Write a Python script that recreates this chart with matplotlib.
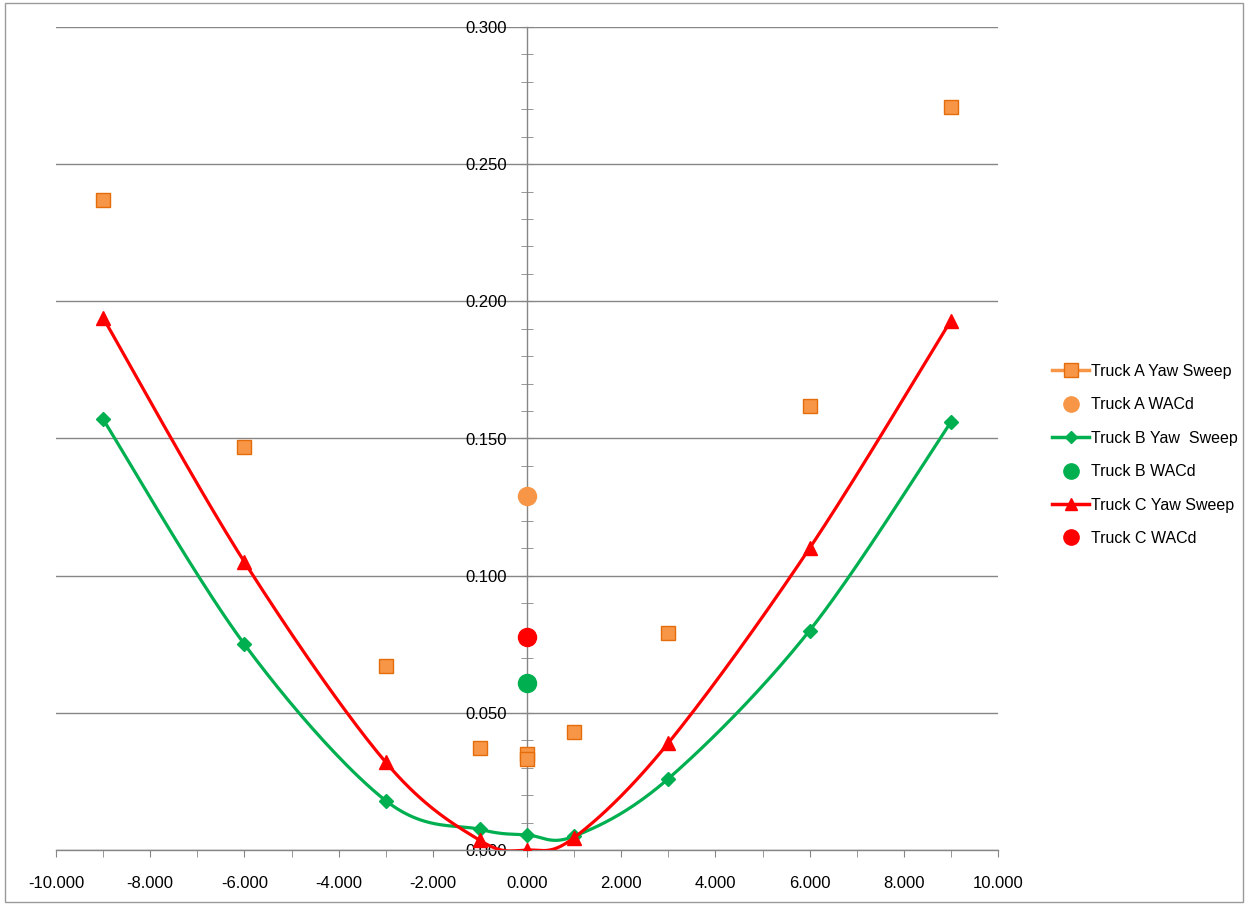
import matplotlib.pyplot as plt
import numpy as np
from matplotlib.patches import Rectangle
from matplotlib.ticker import MultipleLocator, FormatStrFormatter

# yaw angle (deg)
yaw = [-9, -6, -3, -1, 0, 0, 1, 3, 6, 9]
truck_a = [0.237, 0.147, 0.067, 0.037, 0.035, 0.033, 0.043, 0.079, 0.162, 0.271]

yaw_bc = [-9, -6, -3, -1, 0, 1, 3, 6, 9]
truck_b = [0.157, 0.075, 0.018, 0.0075, 0.0055, 0.005, 0.026, 0.080, 0.156]
truck_c = [0.194, 0.105, 0.032, 0.0035, 0.0, 0.0045, 0.039, 0.110, 0.193]

wacd_x = [0.0, 0.0, 0.0]
wacd_a = [0.129]
wacd_b = [0.061]
wacd_c = [0.0775]

labels = ["Truck A Yaw Sweep", "Truck A WACd", "Truck B Yaw  Sweep",
          "Truck B WACd", "Truck C Yaw Sweep", "Truck C WACd"]

ORANGE = "#F79646"
ORANGE_EDGE = "#E46C0A"
GREEN = "#00B050"
RED = "#FF0000"
GRID = "#868686"


def smooth(x, y, n=40):
    # excel-like smoothed line: catmull-rom through the points as bezier segments
    p = np.column_stack([x, y]).astype(float)
    p = np.vstack([p[0], p, p[-1]])
    out = []
    for i in range(1, len(p) - 2):
        p0, p1, p2, p3 = p[i - 1], p[i], p[i + 1], p[i + 2]
        c1 = p1 + (p2 - p0) / 6.0
        c2 = p2 - (p3 - p1) / 6.0
        t = np.linspace(0, 1, n)[:, None]
        seg = ((1 - t) ** 3) * p1 + 3 * ((1 - t) ** 2) * t * c1 + 3 * (1 - t) * t ** 2 * c2 + t ** 3 * p2
        out.append(seg)
    out = np.vstack(out)
    return out[:, 0], out[:, 1]


plt.rcParams['font.family'] = ['Liberation Sans', 'DejaVu Sans']

fig = plt.figure(figsize=(12.47, 9.05), dpi=100)
ax = fig.add_axes([56 / 1247, 55 / 905, 942 / 1247, 823 / 905])

ax.set_xlim(-10, 10)
ax.set_ylim(0, 0.3)

ax.grid(axis='y', color=GRID, linewidth=1.0)
ax.set_axisbelow(True)

for s in ['top', 'right']:
    ax.spines[s].set_visible(False)
ax.spines['left'].set_position(('data', 0))
ax.spines['bottom'].set_position(('data', 0))
for s in ['left', 'bottom']:
    ax.spines[s].set_color(GRID)
    ax.spines[s].set_linewidth(1.0)

ax.xaxis.set_major_locator(MultipleLocator(2))
ax.xaxis.set_minor_locator(MultipleLocator(1))
ax.yaxis.set_major_locator(MultipleLocator(0.05))
ax.yaxis.set_minor_locator(MultipleLocator(0.01))
ax.xaxis.set_major_formatter(FormatStrFormatter('%.3f'))
ax.yaxis.set_major_formatter(FormatStrFormatter('%.3f'))
ax.tick_params(axis='x', which='both', direction='out', length=5, color=GRID, labelsize=12, pad=14)
ax.tick_params(axis='y', which='major', direction='inout', length=9, color=GRID, labelsize=12, pad=10)
ax.tick_params(axis='y', which='minor', direction='inout', length=9, color=GRID)

# truck A: markers only
ax.plot(yaw, truck_a, linestyle='none', marker='s', markersize=10.5,
        markerfacecolor=ORANGE, markeredgecolor=ORANGE_EDGE, markeredgewidth=1.0, zorder=4)

bx, by = smooth(yaw_bc, truck_b)
ax.plot(bx, by, color=GREEN, linewidth=2.3, zorder=3)
ax.plot(yaw_bc, truck_b, linestyle='none', marker='D', markersize=7.5, color=GREEN, zorder=3)

cx, cy = smooth(yaw_bc, truck_c)
ax.plot(cx, cy, color=RED, linewidth=2.3, zorder=3)
ax.plot(yaw_bc, truck_c, linestyle='none', marker='^', markersize=10, color=RED, zorder=3)

ax.plot(wacd_x[:1], wacd_a, linestyle='none', marker='o', markersize=13, color=ORANGE, zorder=5)
ax.plot(wacd_x[1:2], wacd_b, linestyle='none', marker='o', markersize=13, color=GREEN, zorder=5)
ax.plot(wacd_x[2:], wacd_c, linestyle='none', marker='o', markersize=13, color=RED, zorder=5)

# legend handles
h = [
    plt.Line2D([], [], color=ORANGE, linewidth=2.5, marker='s', markersize=10,
               markerfacecolor=ORANGE, markeredgecolor=ORANGE_EDGE),
    plt.Line2D([], [], linestyle='none', marker='o', markersize=11, color=ORANGE),
    plt.Line2D([], [], color=GREEN, linewidth=2.5, marker='D', markersize=6.5),
    plt.Line2D([], [], linestyle='none', marker='o', markersize=11, color=GREEN),
    plt.Line2D([], [], color=RED, linewidth=2.5, marker='^', markersize=9),
    plt.Line2D([], [], linestyle='none', marker='o', markersize=11, color=RED),
]
fig.legend(h, labels, loc='center left', bbox_to_anchor=(1038 / 1247, 1 - 455 / 905),
           frameon=False, fontsize=11.5, handlelength=2.3, handletextpad=0.1,
           labelspacing=1.15)

# chart border
fig.patches.append(Rectangle((5 / 1247, 3 / 905), 1238 / 1247, 899 / 905, transform=fig.transFigure,
                             fill=False, edgecolor='#9A9A9A', linewidth=1.0))

fig.savefig("out.png", dpi=100)
